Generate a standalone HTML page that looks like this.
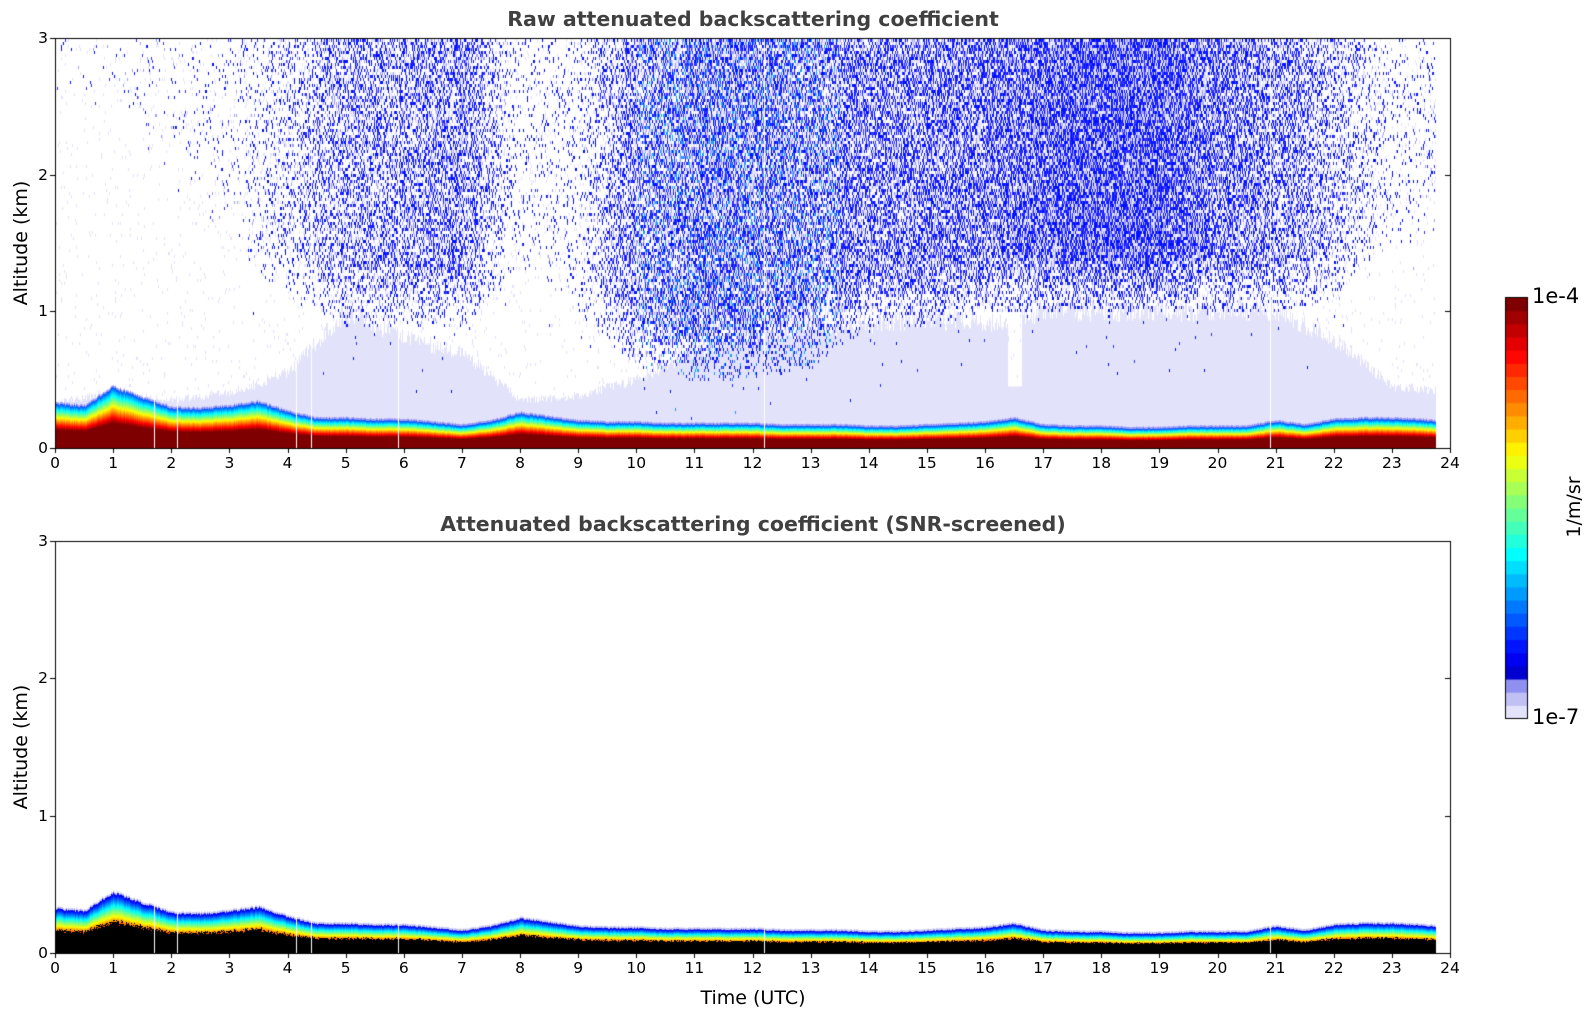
<!DOCTYPE html>
<html><head><meta charset="utf-8"><style>
body{margin:0;background:#fff;font-family:"DejaVu Sans","Liberation Sans",sans-serif;}
#wrap{position:relative;width:1595px;height:1020px;overflow:hidden;}
canvas{position:absolute;left:0;top:0;}
.t{position:absolute;white-space:nowrap;color:#000;}
</style></head><body>
<div id="wrap">
<canvas id="c" width="1595" height="1020"></canvas>
<div class="t" style="left:753px;top:7px;transform:translateX(-50%);font-weight:bold;font-size:20.5px;color:#404040">Raw attenuated backscattering coefficient</div>
<div class="t" style="left:753px;top:512px;transform:translateX(-50%);font-weight:bold;font-size:20.5px;color:#404040">Attenuated backscattering coefficient (SNR-screened)</div>
<div class="t" style="left:21px;top:243px;transform:translate(-50%,-50%) rotate(-90deg);font-size:19px">Altitude (km)</div>
<div class="t" style="left:21px;top:747px;transform:translate(-50%,-50%) rotate(-90deg);font-size:19px">Altitude (km)</div>
<div class="t" style="left:753px;top:987px;transform:translateX(-50%);font-size:19px">Time (UTC)</div>
<div class="t" style="left:1532px;top:284px;font-size:21px">1e-4</div>
<div class="t" style="left:1532px;top:705px;font-size:21px">1e-7</div>
<div class="t" style="left:1574px;top:507px;transform:translate(-50%,-50%) rotate(-90deg);font-size:19px">1/m/sr</div>
<div id="labels"></div>
</div>
<script>
// ---- data ----
const blTimes = [0,0.5,1,1.5,2,2.5,3,3.5,4,4.5,5,5.5,6,6.5,7,7.5,8,8.5,9,9.5,10,10.5,11,11.5,12,12.5,13,13.5,14,14.5,15,15.5,16,16.5,17,17.5,18,18.5,19,19.5,20,20.5,21,21.5,22,22.5,23,23.5,23.75];
const blTop = [0.32,0.3,0.44,0.36,0.29,0.28,0.3,0.33,0.26,0.21,0.21,0.2,0.2,0.18,0.16,0.19,0.25,0.22,0.19,0.18,0.18,0.17,0.17,0.17,0.17,0.16,0.16,0.16,0.15,0.15,0.16,0.17,0.18,0.21,0.16,0.15,0.15,0.14,0.14,0.15,0.15,0.15,0.19,0.16,0.2,0.21,0.21,0.2,0.19];
const hourTimes = [0,1,2,3,4,5,6,7,8,9,10,11,12,13,14,15,16,17,18,19,20,21,22,23,23.75];
const hazeTop = [0.34,0.4,0.35,0.4,0.55,1.0,0.8,0.7,0.35,0.38,0.5,0.7,0.8,0.85,0.9,0.95,0.9,1.0,1.0,1.0,1.0,1.0,0.8,0.45,0.42];
const speckleDensity = [0.02,0.02,0.03,0.03,0.15,0.28,0.3,0.35,0.05,0.08,0.35,0.45,0.45,0.4,0.38,0.4,0.42,0.5,0.55,0.55,0.42,0.35,0.22,0.06,0.05];
const speckleBase = [2.5,2.5,2,1.5,1.1,0.9,0.9,0.9,1.3,1.0,0.6,0.5,0.5,0.6,0.9,0.9,1.0,1.0,1.0,1.0,1.0,1.0,1.1,1.5,1.5];
const gapTimes = [1.7,2.1,4.15,4.4,5.9,12.2,20.9];
const xTicks = [0,1,2,3,4,5,6,7,8,9,10,11,12,13,14,15,16,17,18,19,20,21,22,23,24];
const yTicks = [0,1,2,3];
// ---- layout ----
const X0=55,X1=1450,tEnd=23.75;
const panels=[{top:38,bot:448},{top:541,bot:953}];
const xs=t=>X0+(t/24)*(X1-X0);
function interp(ts,vs,t){for(let i=0;i<ts.length-1;i++){if(t<=ts[i+1]){const f=(t-ts[i])/(ts[i+1]-ts[i]);return vs[i]+f*(vs[i+1]-vs[i]);}}return vs[vs.length-1];}
function jet(v){v=Math.max(0,Math.min(1,v));const r=Math.min(1,Math.max(0,1.5-Math.abs(4*v-3))),g=Math.min(1,Math.max(0,1.5-Math.abs(4*v-2))),b=Math.min(1,Math.max(0,1.5-Math.abs(4*v-1)));return 'rgb('+(r*255|0)+','+(g*255|0)+','+(b*255|0)+')';}
let seed=12345;function rnd(){seed=(seed*1103515245+12345)&0x7fffffff;return seed/0x7fffffff;}
const cv=document.getElementById('c'),ctx=cv.getContext('2d');
ctx.fillStyle='#fff';ctx.fillRect(0,0,1595,1020);
const xEnd=xs(tEnd);
const gapX=gapTimes.map(t=>Math.round(xs(t)));
panels.forEach((p,pi)=>{
  const ys=a=>p.bot-(a/3)*(p.bot-p.top);
  for(let x=X0+1;x<xEnd;x++){
    const t=(x-X0)/(X1-X0)*24;
    const h=interp(blTimes,blTop,t)*(1+0.05*(rnd()-0.5));
    const yh=ys(h);
    if(pi===0){
      const hz=interp(hourTimes,hazeTop,t), d=interp(hourTimes,speckleDensity,t), sb=interp(hourTimes,speckleBase,t);
      let yz=ys(hz*(0.92+0.16*rnd()));
      if(Math.abs(t-16.5)<0.12) yz=ys(0.45);
      ctx.fillStyle='#e2e2fa';ctx.fillRect(x,yz,1,p.bot-yz);
      const cyan=(t>10&&t<13.5);
      for(let y=p.top+1;y<p.bot;y+=3){const a=(p.bot-y)/(p.bot-p.top)*3;
        let pr=a>sb?d*Math.min(1,(a-sb)/0.6+0.25):d*0.015*Math.max(0,1-(sb-a)*2);
        const r=rnd();
        if(r<pr){ctx.fillStyle=cyan&&r<pr*0.2?'#1e9bff':(r<pr*0.6?'#0010ff':'#3030ff');ctx.fillRect(x,y,1,3);}
        else if(y<yz&&r<pr*1.8+0.02){ctx.fillStyle=r<pr*1.3?'#a0a0f5':'#e2e2fa';ctx.fillRect(x,y,1,3);}}
      for(let y=Math.floor(yh);y<p.bot;y++){const f=(p.bot-y)/(p.bot-yh);
        let v=f<0.42?1:1-(f-0.42)/0.58*0.88;ctx.fillStyle=jet(v*0.9+0.1);ctx.fillRect(x,y,1,1);}
      ctx.fillStyle='#9a9af5';ctx.fillRect(x,yh-2,1,2);
    }else{
      for(let y=Math.floor(yh);y<p.bot;y++){const f=(p.bot-y)/(p.bot-yh);
        if(f<0.48+0.1*rnd()){ctx.fillStyle='#000';}else{const v=1-(f-0.48)/0.52;ctx.fillStyle=jet(0.1+v*0.72);}
        ctx.fillRect(x,y,1,1);}
      ctx.fillStyle='#c8c8f5';ctx.fillRect(x,yh-2,1,2);
    }
  }
  ctx.fillStyle='#fff';
  gapX.forEach(gx=>ctx.fillRect(gx,pi===0?p.top+1:ys(0.5),1,p.bot-(pi===0?p.top+1:ys(0.5))));
  // axes
  ctx.strokeStyle='#000';ctx.lineWidth=1;ctx.strokeRect(X0+0.5,p.top+0.5,X1-X0,p.bot-p.top);
  ctx.beginPath();
  xTicks.forEach(v=>{const x=Math.round(xs(v))+0.5;ctx.moveTo(x,p.bot);ctx.lineTo(x,p.bot+5);});
  yTicks.forEach(v=>{const y=Math.round(ys(v))+0.5;ctx.moveTo(X0-5,y);ctx.lineTo(X0,y);ctx.moveTo(X1-5,y);ctx.lineTo(X1,y);});
  ctx.stroke();
  const L=document.getElementById('labels');
  xTicks.forEach(v=>{const d=document.createElement('div');d.className='t';
    
    
    d.style.cssText='left:'+xs(v)+'px;top:'+(p.bot+6)+'px;transform:translateX(-50%);font-size:15.5px';d.textContent=v;L.appendChild(d);});
  yTicks.forEach(v=>{const d=document.createElement('div');d.className='t';
    
    
    d.style.cssText='left:'+(X0-7)+'px;top:'+ys(v)+'px;transform:translate(-100%,-50%);font-size:15.5px';d.textContent=v;L.appendChild(d);});
});
// colorbar
const cbT=297,cbB=718,cbL=1505,cbR=1527,n=32;
for(let i=0;i<n;i++){const y0=cbB-(i+1)*(cbB-cbT)/n;
  ctx.fillStyle=i<3?['#e2e2fa','#c0c0f5','#9090f0'][i]:jet(0.08+0.92*(i-3)/(n-4));ctx.fillRect(cbL,y0,cbR-cbL,(cbB-cbT)/n+1);}
ctx.strokeStyle='#000';ctx.strokeRect(cbL+0.5,cbT+0.5,cbR-cbL,cbB-cbT);
</script>
</body></html>
